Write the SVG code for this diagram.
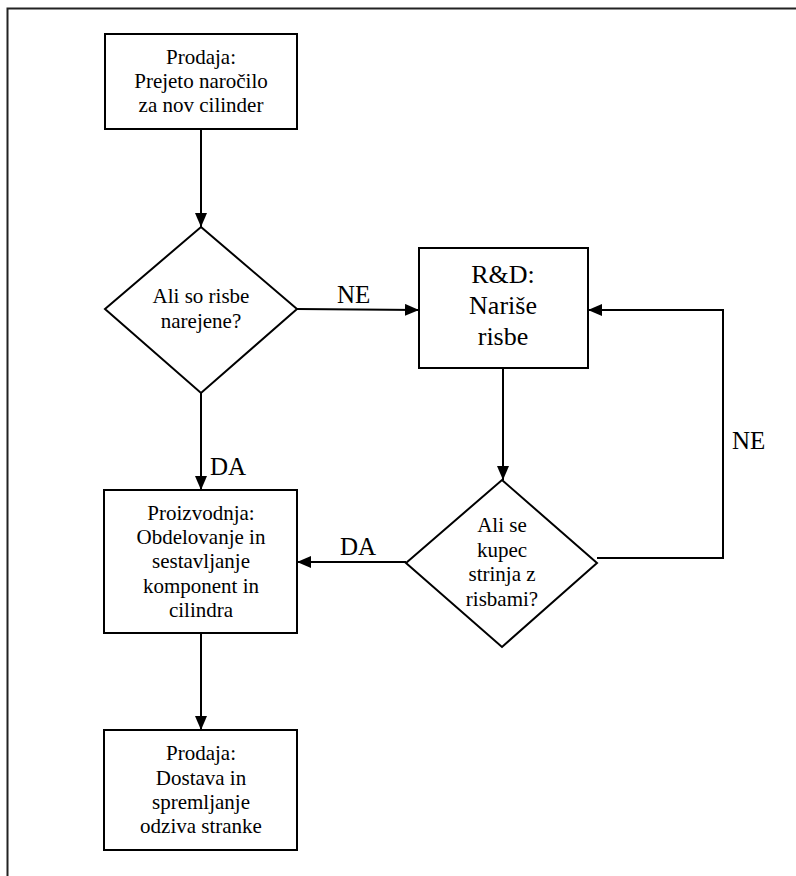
<svg xmlns="http://www.w3.org/2000/svg" width="796" height="876" viewBox="0 0 796 876">
<style>
.box{fill:#fff;stroke:#000;stroke-width:2}
.ln{fill:none;stroke:#000;stroke-width:2}
</style>
<defs>
<marker id="ah" markerWidth="14" markerHeight="12" refX="14" refY="6" orient="auto" markerUnits="userSpaceOnUse">
<path d="M0,0 L14,6 L0,12 Z" fill="#000"/>
</marker>
</defs>
<rect width="796" height="876" fill="#fff"/>
<path d="M7.5,880 L7.5,8.5 L800,8.5" fill="none" stroke="#222" stroke-width="2"/>
<g id="connectors">
<path class="ln" d="M201,129 L201,227" marker-end="url(#ah)"/>
<path class="ln" d="M297,309 L419,310" marker-end="url(#ah)"/>
<path class="ln" d="M201,393 L201,490" marker-end="url(#ah)"/>
<path class="ln" d="M503,368 L503,480" marker-end="url(#ah)"/>
<path class="ln" d="M406,562 L297,562" marker-end="url(#ah)"/>
<path class="ln" d="M597,558 L723,558 L723,310 L588,310" marker-end="url(#ah)"/>
<path class="ln" d="M201,633 L201,730" marker-end="url(#ah)"/>
<g font-family="Liberation Serif, Times New Roman, serif" font-size="25" fill="#000">
<text x="337" y="303">NE</text>
<text x="210" y="475">DA</text>
<text x="340" y="555">DA</text>
<text x="732" y="449">NE</text>
</g>
</g>
<g font-family="Liberation Serif, Times New Roman, serif" font-size="21" fill="#000" text-anchor="middle">
<g id="start">
<rect class="box" x="105" y="34" width="192" height="95"/>
<text x="201" y="64">Prodaja:</text>
<text x="201" y="88">Prejeto naročilo</text>
<text x="201" y="112">za nov cilinder</text>
</g>
<g id="decision1">
<polygon class="box" points="201,227 297,309 201,393 105,309"/>
<text x="201" y="303">Ali so risbe</text>
<text x="201" y="328">narejene?</text>
</g>
<g id="rnd" font-size="26">
<rect class="box" x="419" y="248" width="169" height="120"/>
<text x="503" y="283">R&amp;D:</text>
<text x="503" y="314">Nariše</text>
<text x="503" y="345">risbe</text>
</g>
<g id="decision2">
<polygon class="box" points="502,480 597,563 502,647 406,563"/>
<text x="502" y="532">Ali se</text>
<text x="502" y="557">kupec</text>
<text x="502" y="581">strinja z</text>
<text x="502" y="606">risbami?</text>
</g>
<g id="production">
<rect class="box" x="104" y="490" width="193" height="143"/>
<text x="201" y="520">Proizvodnja:</text>
<text x="201" y="544">Obdelovanje in</text>
<text x="201" y="568">sestavljanje</text>
<text x="201" y="593">komponent in</text>
<text x="201" y="617">cilindra</text>
</g>
<g id="delivery">
<rect class="box" x="104" y="730" width="193" height="120"/>
<text x="201" y="760">Prodaja:</text>
<text x="201" y="785">Dostava in</text>
<text x="201" y="809">spremljanje</text>
<text x="201" y="833">odziva stranke</text>
</g>
</g>
</svg>
